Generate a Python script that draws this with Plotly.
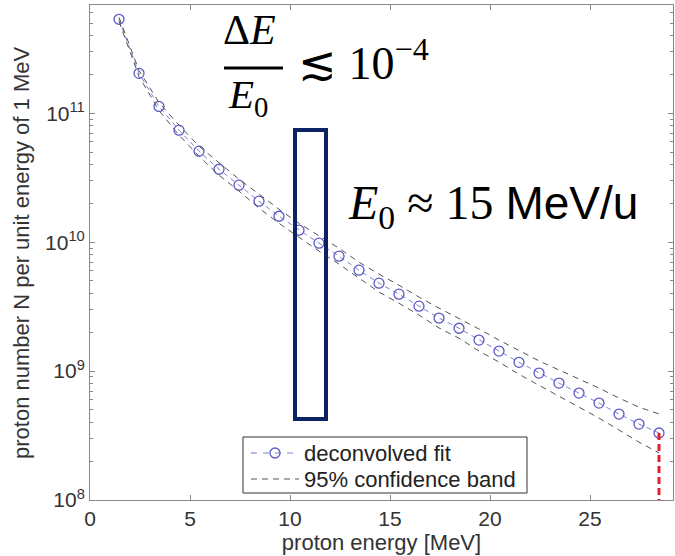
import plotly.graph_objects as go

# ---------------- data ----------------
energy = [1.45, 2.45, 3.45, 4.45, 5.45, 6.45, 7.45, 8.45, 9.45, 10.45,
          11.45, 12.45, 13.45, 14.45, 15.45, 16.45, 17.45, 18.45, 19.45, 20.45,
          21.45, 22.45, 23.45, 24.45, 25.45, 26.45, 27.45, 28.45]

fit_counts = [5.36e11, 2.04e11, 1.13e11, 7.4e10, 5.08e10, 3.68e10, 2.77e10, 2.08e10,
              1.59e10, 1.24e10, 9.83e9, 7.79e9, 6.07e9, 4.81e9, 3.95e9, 3.19e9,
              2.58e9, 2.15e9, 1.74e9, 1.43e9, 1.17e9, 9.65e8, 8.07e8, 6.75e8,
              5.65e8, 4.64e8, 3.88e8, 3.31e8]

band_upper = [5.55e11, 2.15e11, 1.21e11, 8.09e10, 5.55e10, 4.10e10, 3.08e10, 2.36e10,
              1.80e10, 1.40e10, 1.13e10, 8.98e9, 7.00e9, 5.65e9, 4.64e9, 3.75e9,
              3.08e9, 2.57e9, 2.12e9, 1.74e9, 1.45e9, 1.20e9, 1.02e9, 8.67e8,
              7.38e8, 6.18e8, 5.25e8, 4.65e8]

band_lower = [5.17e11, 1.93e11, 1.05e11, 6.77e10, 4.65e10, 3.31e10, 2.49e10, 1.84e10,
              1.40e10, 1.09e10, 8.53e9, 6.76e9, 5.26e9, 4.10e9, 3.36e9, 2.72e9,
              2.16e9, 1.80e9, 1.43e9, 1.175e9, 9.44e8, 7.79e8, 6.40e8, 5.26e8,
              4.32e8, 3.49e8, 2.81e8, 2.32e8]

series_names = ["deconvolved fit", "95% confidence band"]

x_tickvals = [0, 5, 10, 15, 20, 25]
y_tickvals = [1e8, 1e9, 1e10, 1e11]
y_ticktext = ["10<sup>8</sup>", "10<sup>9</sup>", "10<sup>10</sup>", "10<sup>11</sup>"]
y_minor_vals = [m * d for d in (1e8, 1e9, 1e10, 1e11) for m in range(2, 10)]

x_range = [0, 29.15]
y_min = 1e8
y_log_range = [8, 11.84]

# ---------------- styles ----------------
fit_line_col = "#8080dc"
fit_marker_col = "#5a5ac8"
band_color = "#555555"
axis_col = "#888888"
sans = "Liberation Sans, Arial, sans-serif"
serif = "Liberation Serif, Cambria, DejaVu Serif, serif"
tick_font = dict(family=sans, size=21, color="#333333")
title_font = dict(family=sans, size=22, color="#333333")

# ---------------- figure ----------------
fig = go.Figure()

fig.add_trace(go.Scatter(
    x=energy, y=fit_counts, mode="lines+markers",
    line=dict(color=fit_line_col, width=1, dash="5px,4px"),
    marker=dict(symbol="circle-open", size=10, color=fit_marker_col, line=dict(width=1.3)),
    name=series_names[0], showlegend=False))

fig.add_trace(go.Scatter(
    x=energy, y=band_upper, mode="lines",
    line=dict(color=band_color, width=1, dash="6px,5px"),
    name=series_names[1], showlegend=False))
fig.add_trace(go.Scatter(
    x=energy, y=band_lower, mode="lines",
    line=dict(color=band_color, width=1, dash="6px,5px"),
    name=series_names[1], showlegend=False))

# red dashed cutoff at the last point
fig.add_trace(go.Scatter(
    x=[energy[-1], energy[-1]], y=[fit_counts[-1], y_min], mode="lines",
    line=dict(color="#e3202b", width=3, dash="7px,4px"),
    showlegend=False, hoverinfo="skip"))

fig.update_xaxes(
    range=x_range, tickvals=x_tickvals, ticks="inside", ticklen=5, tickcolor=axis_col,
    showline=True, linecolor=axis_col, linewidth=1, mirror="ticks",
    showgrid=False, zeroline=False, tickfont=tick_font, automargin=False,
    title=dict(text="proton energy [MeV]", font=title_font, standoff=0))
fig.update_yaxes(
    type="log", range=y_log_range, tickvals=y_tickvals, ticktext=y_ticktext,
    ticks="inside", ticklen=5, tickcolor=axis_col,
    minor=dict(tickvals=y_minor_vals, ticks="inside", ticklen=3, tickcolor=axis_col),
    showline=True, linecolor=axis_col, linewidth=1, mirror="ticks",
    showgrid=False, zeroline=False, tickfont=tick_font, automargin=False)

W, H = 583.0, 495.0
def px(x):
    return (x - 90) / W
def py(y):
    return (500 - y) / H

# ---- legend box (MATLAB style) ----
fig.add_shape(type="rect", xref="paper", yref="paper",
              x0=px(243), x1=px(527), y0=py(493), y1=py(437),
              fillcolor="white", line=dict(color="#333333", width=1), layer="above")
fig.add_shape(type="line", xref="paper", yref="paper",
              x0=px(251), x1=px(299), y0=py(453), y1=py(453),
              line=dict(color=fit_line_col, width=1.2, dash="6px,6px"))
fig.add_shape(type="circle", xref="paper", yref="paper",
              x0=px(270), x1=px(280), y0=py(458), y1=py(448),
              line=dict(color=fit_marker_col, width=1.3))
fig.add_shape(type="line", xref="paper", yref="paper",
              x0=px(251), x1=px(299), y0=py(479), y1=py(479),
              line=dict(color=band_color, width=1, dash="6px,5px"))

annots = [
    dict(text="proton number N per unit energy of 1 MeV", x=px(21), y=py(253),
         textangle=-90, font=title_font),
    dict(text=series_names[0], x=px(302), y=py(453), xanchor="left",
         font=dict(family=sans, size=22, color="#222222")),
    dict(text=series_names[1], x=px(302), y=py(479), xanchor="left",
         font=dict(family=sans, size=22, color="#222222")),
    dict(text="Δ<i>E</i>", x=px(249), y=py(30), font=dict(family=serif, size=42, color="black")),
    dict(text="<i>E</i><sub>0</sub>", x=px(248), y=py(97), font=dict(family=serif, size=41, color="black")),
    dict(text="≲ 10<sup>−4</sup>", x=px(296), y=py(60), xanchor="left",
         font=dict(family=serif, size=46, color="black")),
    dict(text="<i>E</i><sub>0</sub> ≈ 15 <span style='font-family:Liberation Sans;font-size:46px'>MeV/u</span>",
         x=px(346), y=py(206), xanchor="left", font=dict(family=serif, size=48, color="black")),
]
for a in annots:
    a.setdefault("xanchor", "center")
    fig.add_annotation(xref="paper", yref="paper", showarrow=False, yanchor="middle", **a)

fig.add_shape(type="line", xref="paper", yref="paper",
              x0=px(224), x1=px(283), y0=py(68), y1=py(68),
              line=dict(color="black", width=3))
fig.add_shape(type="rect", xref="paper", yref="paper",
              x0=px(295), x1=px(326), y0=py(419), y1=py(130),
              line=dict(color="#0b2265", width=4))

fig.update_layout(
    width=675, height=556,
    margin=dict(l=90, r=2, t=5, b=56, autoexpand=False),
    plot_bgcolor="white", paper_bgcolor="white",
    showlegend=False,
)

fig.write_html(
    "out.html",
    config={"displayModeBar": False},
    post_script="document.body.style.margin='0';document.body.style.overflow='hidden';",
)
